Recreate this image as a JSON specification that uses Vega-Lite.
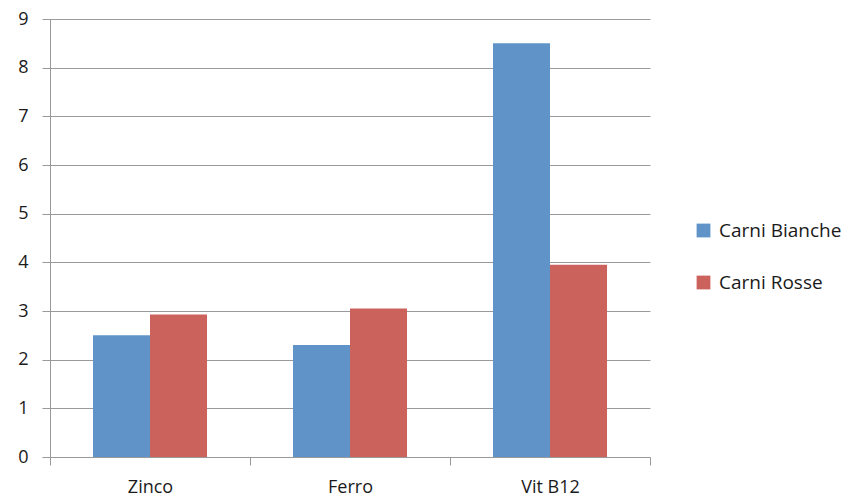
{
  "$schema": "https://vega.github.io/schema/vega-lite/v6.json",
  "width": 600,
  "height": 438,
  "autosize": "none",
  "padding": {"left": 50, "top": 19, "right": 203, "bottom": 46},
  "background": "white",
  "data": {
    "values": [
      {"cat": "Zinco", "serie": "Carni Bianche", "v": 2.5},
      {"cat": "Zinco", "serie": "Carni Rosse", "v": 2.93},
      {"cat": "Ferro", "serie": "Carni Bianche", "v": 2.3},
      {"cat": "Ferro", "serie": "Carni Rosse", "v": 3.05},
      {"cat": "Vit B12", "serie": "Carni Bianche", "v": 8.5},
      {"cat": "Vit B12", "serie": "Carni Rosse", "v": 3.95}
    ]
  },
  "config": {
    "view": {"stroke": null},
    "font": "Open Sans",
    "axis": {"labelFont": "Open Sans", "labelFontSize": 18, "labelColor": "#1a1a1a"}
  },
  "mark": {"type": "bar"},
  "encoding": {
    "x": {
      "field": "cat",
      "type": "nominal",
      "sort": ["Zinco", "Ferro", "Vit B12"],
      "scale": {"paddingInner": 0, "paddingOuter": 0},
      "axis": {
        "title": null,
        "labelAngle": 0,
        "tickBand": "extent",
        "tickSize": 8,
        "tickColor": "#999999",
        "domainColor": "#999999",
        "labelPadding": 13,
        "labelBaseline": "top"
      }
    },
    "xOffset": {
      "field": "serie",
      "sort": ["Carni Bianche", "Carni Rosse"],
      "scale": {"paddingInner": 0, "paddingOuter": 0.754}
    },
    "y": {
      "field": "v",
      "type": "quantitative",
      "scale": {"domain": [0, 9], "nice": false},
      "axis": {
        "title": null,
        "values": [0, 1, 2, 3, 4, 5, 6, 7, 8, 9],
        "labelOverlap": false,
        "grid": true,
        "gridColor": "#9a9a9a",
        "gridWidth": 1,
        "tickSize": 8,
        "tickColor": "#9a9a9a",
        "domainColor": "#9a9a9a",
        "labelPadding": 14
      }
    },
    "color": {
      "field": "serie",
      "type": "nominal",
      "scale": {"domain": ["Carni Bianche", "Carni Rosse"], "range": ["#6094c9", "#cb635c"]},
      "legend": {
        "title": null,
        "orient": "none",
        "legendX": 644,
        "legendY": 202,
        "symbolType": "square",
        "symbolSize": 190,
        "symbolStrokeWidth": 0,
        "labelFontSize": 19,
        "labelFont": "Open Sans",
        "labelColor": "#1a1a1a",
        "rowPadding": 32,
        "labelOffset": 6
      }
    }
  }
}
